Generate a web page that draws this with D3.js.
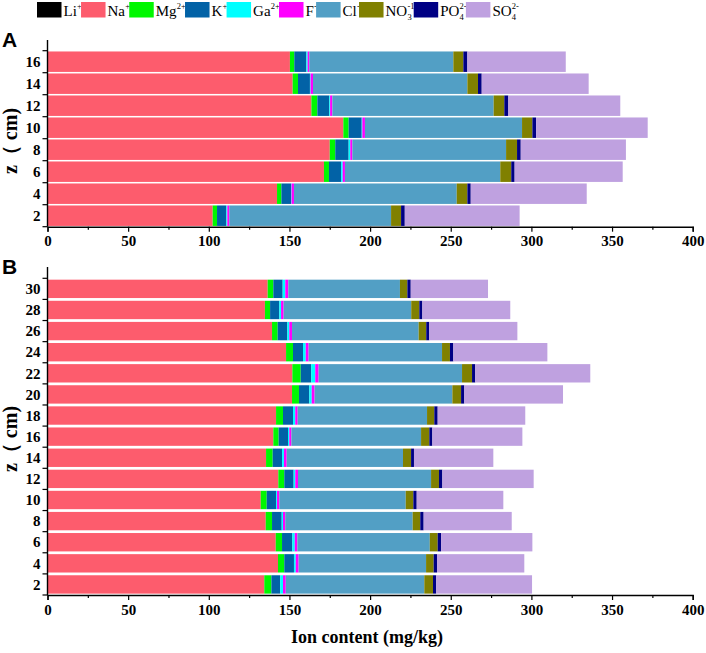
<!DOCTYPE html>
<html>
<head>
<meta charset="utf-8">
<script src="https://cdn.jsdelivr.net/npm/d3@7"></script>
<style>
  body { margin: 0; background: #fff; }
</style>
</head>
<body>
<div id="chart"></div>
<script>
const width = 706;
const height = 653;
const serif = "'Liberation Serif', 'Times New Roman', Times, serif";

// ion keys, legend labels (base, superscript, subscript) and colours
const ions = ["Li", "Na", "Mg", "K", "Ga", "F", "Cl", "NO3", "PO4", "SO4"];
const ionBase = ["Li", "Na", "Mg", "K", "Ga", "F", "Cl", "NO", "PO", "SO"];
const ionSup = ["+", "+", "2+", "+", "2+", "-", "-", "-1", "2-", "2-"];
const ionSub = ["", "", "", "", "", "", "", "3", "4", "4"];
const ionColors = ["#000000", "#fd5c6d", "#00f700", "#0262a6", "#00ffff", "#ff00ff",
                   "#529fc5", "#808000", "#000084", "#bfa1e0"];

const xTicks = [0, 50, 100, 150, 200, 250, 300, 350, 400];

// Panel A: depth (cm) and ion content (mg/kg)
const depthsA = [2, 4, 6, 8, 10, 12, 14, 16];
const liA  = [0.1, 0.1, 0.1, 0.1, 0.1, 0.1, 0.1, 0.1];
const naA  = [102.3, 142.2, 171.3, 174.9, 183.3, 163.5, 151.9, 150.2];
const mgA  = [2.7, 2.7, 3.1, 3.4, 3.3, 3.7, 3.3, 2.7];
const kA   = [5.8, 6.0, 7.5, 8.3, 8.1, 7.4, 7.4, 7.5];
const gaA  = [0.6, 0.3, 1.0, 1.0, 0.4, 0.5, 0.4, 0.8];
const fA   = [1.2, 1.5, 1.4, 1.3, 1.6, 1.4, 1.5, 1.0];
const clA  = [100.3, 100.9, 96.3, 95.3, 97.4, 100.0, 95.7, 89.3];
const no3A = [6.2, 6.6, 6.8, 6.8, 6.4, 6.6, 6.6, 6.2];
const po4A = [2.3, 2.1, 2.1, 2.3, 2.3, 2.5, 2.3, 2.5];
const so4A = [71.2, 71.9, 67.0, 65.2, 69.2, 69.4, 66.3, 61.0];

// Panel B
const depthsB = [2, 4, 6, 8, 10, 12, 14, 16, 18, 20, 22, 24, 26, 28, 30];
const liB  = [0.1, 0.1, 0.1, 0.1, 0.1, 0.1, 0.1, 0.1, 0.1, 0.1, 0.1, 0.1, 0.1, 0.1, 0.1];
const naB  = [134.3, 142.8, 141.4, 135.2, 132.1, 143.0, 135.4, 139.9, 141.6, 151.5, 151.7, 147.8, 139.1, 134.7, 136.4];
const mgB  = [4.4, 3.9, 3.9, 3.9, 3.7, 3.7, 4.1, 3.3, 4.3, 4.3, 5.2, 4.3, 3.5, 3.2, 3.5];
const kB   = [5.5, 6.0, 6.4, 6.0, 5.8, 5.8, 5.8, 5.8, 6.2, 6.4, 6.5, 6.2, 6.0, 5.7, 5.8];
const gaB  = [1.7, 1.1, 1.5, 0.8, 0.6, 1.0, 1.2, 0.8, 1.4, 1.5, 2.5, 1.7, 1.2, 1.1, 1.6];
const fB   = [1.7, 1.8, 1.6, 1.4, 1.4, 1.7, 1.7, 1.3, 1.5, 1.8, 2.1, 1.8, 1.7, 1.6, 1.9];
const clB  = [85.9, 79.0, 82.1, 79.0, 78.4, 82.5, 72.1, 80.4, 80.2, 85.4, 88.9, 82.7, 78.5, 79.1, 69.2];
const no3B = [5.4, 4.7, 4.9, 4.7, 4.7, 4.9, 5.0, 5.1, 4.5, 5.4, 6.2, 4.9, 4.7, 5.0, 4.6];
const po4B = [2.0, 2.1, 2.1, 2.1, 2.1, 2.1, 1.8, 1.9, 2.1, 2.0, 2.0, 2.1, 1.9, 1.9, 2.1];
const so4B = [59.4, 54.1, 56.6, 54.6, 53.7, 56.6, 49.2, 55.8, 54.3, 61.2, 71.3, 58.3, 54.6, 54.5, 47.9];

function buildTable(depths, cols) {
    return depths.map((z, i) => {
        let row = { z: z };
        ions.forEach((k, j) => row[k] = cols[j][i]);
        return row;
    });
}

const tableA = buildTable(depthsA, [liA, naA, mgA, kA, gaA, fA, clA, no3A, po4A, so4A]);
const tableB = buildTable(depthsB, [liB, naB, mgB, kB, gaB, fB, clB, no3B, po4B, so4B]);

const color = d3.scaleOrdinal(ions, ionColors);
const stack = d3.stack().keys(ions);

let svg = d3.select("#chart").append("svg")
    .attr("width", width)
    .attr("height", height)
    .style("font-family", serif);

const x = d3.scaleLinear()
    .domain([0, 400])
    .range([47.5, 692.7]);

function drawPanel(table, depths, top, bottom, axisTop, pad, letter, labelY) {
    let g = svg.append("g");

    let y = d3.scaleBand()
        .domain(depths.slice().reverse())
        .range([top, bottom])
        .paddingInner(pad)
        .paddingOuter(pad / 2);

    g.append("g")
        .selectAll("g")
        .data(stack(table))
        .join("g")
            .attr("fill", d => color(d.key))
        .selectAll("rect")
        .data(d => d)
        .join("rect")
            .attr("x", d => x(d[0]))
            .attr("width", d => x(d[1]) - x(d[0]))
            .attr("y", d => y(d.data.z))
            .attr("height", y.bandwidth());

    // x axis: major + minor ticks
    g.append("g")
        .attr("transform", `translate(0,${bottom})`)
        .call(d3.axisBottom(x).tickValues(d3.range(25, 400, 50)).tickSize(3).tickFormat(""))
        .call(a => a.select(".domain").remove())
        .call(a => a.selectAll("line").attr("stroke-width", 1.2));

    g.append("g")
        .attr("transform", `translate(0,${bottom})`)
        .call(d3.axisBottom(x).tickValues(xTicks).tickSizeOuter(0).tickSize(5).tickPadding(4))
        .attr("font-family", null)
        .call(a => a.select(".domain").attr("stroke-width", 1.4))
        .call(a => a.selectAll("line").attr("stroke-width", 1.2))
        .call(a => a.selectAll("text")
            .style("font-family", serif)
            .style("font-size", "15px")
            .style("font-weight", "bold")
            .attr("fill", "#000"));

    // y axis: ticks at band edges, labels at band centres
    let yAxis = g.append("g")
        .attr("transform", `translate(${x(0)},0)`);

    yAxis.append("line")
        .attr("y1", axisTop)
        .attr("y2", bottom)
        .attr("stroke", "#000")
        .attr("stroke-width", 1.4);

    let edges = d3.range(depths.length + 1).map(i => top + i * y.step());
    yAxis.selectAll(".edge")
        .data(edges)
        .join("line")
            .attr("class", "edge")
            .attr("x1", -5)
            .attr("x2", 0)
            .attr("y1", d => d)
            .attr("y2", d => d)
            .attr("stroke", "#000")
            .attr("stroke-width", 1.2);

    yAxis.selectAll(".lab")
        .data(depths)
        .join("text")
            .attr("class", "lab")
            .attr("x", -7)
            .attr("y", d => y(d) + y.bandwidth() / 2)
            .attr("dy", "0.35em")
            .attr("text-anchor", "end")
            .style("font-family", serif)
            .style("font-size", "15px")
            .style("font-weight", "bold")
            .text(d => d);

    // panel letter
    g.append("text")
        .attr("x", 2)
        .attr("y", axisTop + 7)
        .style("font-family", "'Liberation Sans', Arial, sans-serif")
        .style("font-size", "21px")
        .style("font-weight", "bold")
        .text(letter);

    // y label
    g.append("text")
        .attr("transform", `translate(17,${labelY}) rotate(-90)`)
        .attr("text-anchor", "middle")
        .style("font-family", serif)
        .style("font-size", "20px")
        .style("font-weight", "bold")
        .text("z（ cm)");
}

drawPanel(tableA, depthsA, 50.7, 226.7, 40, 0.07, "A", 141);
drawPanel(tableB, depthsB, 278.3, 595, 267, 0.13, "B", 439);

// x axis title
svg.append("text")
    .attr("x", 367)
    .attr("y", 643)
    .attr("text-anchor", "middle")
    .style("font-family", serif)
    .style("font-size", "18px")
    .style("font-weight", "bold")
    .text("Ion content (mg/kg)");

// legend
let legend = svg.append("g");
let lx = 37;
ions.forEach((k, i) => {
    legend.append("rect")
        .attr("x", lx)
        .attr("y", 2)
        .attr("width", 24.5)
        .attr("height", 15.5)
        .attr("fill", color(k));
    lx += 26.5;
    let base = legend.append("text")
        .attr("x", lx)
        .attr("y", 16)
        .style("font-family", serif)
        .style("font-size", "15px")
        .text(ionBase[i]);
    let w = base.node().getComputedTextLength();
    let sup = legend.append("text")
        .attr("x", lx + w + 0.2)
        .attr("y", 9)
        .style("font-family", serif)
        .style("font-size", "8.5px")
        .text(ionSup[i]);
    let sub = legend.append("text")
        .attr("x", lx + w + 0.2)
        .attr("y", 20)
        .style("font-family", serif)
        .style("font-size", "8.5px")
        .text(ionSub[i]);
    let extra = Math.max(sup.node().getComputedTextLength(), sub.node().getComputedTextLength());
    lx += w + extra - 0.6;
});
</script>
</body>
</html>
